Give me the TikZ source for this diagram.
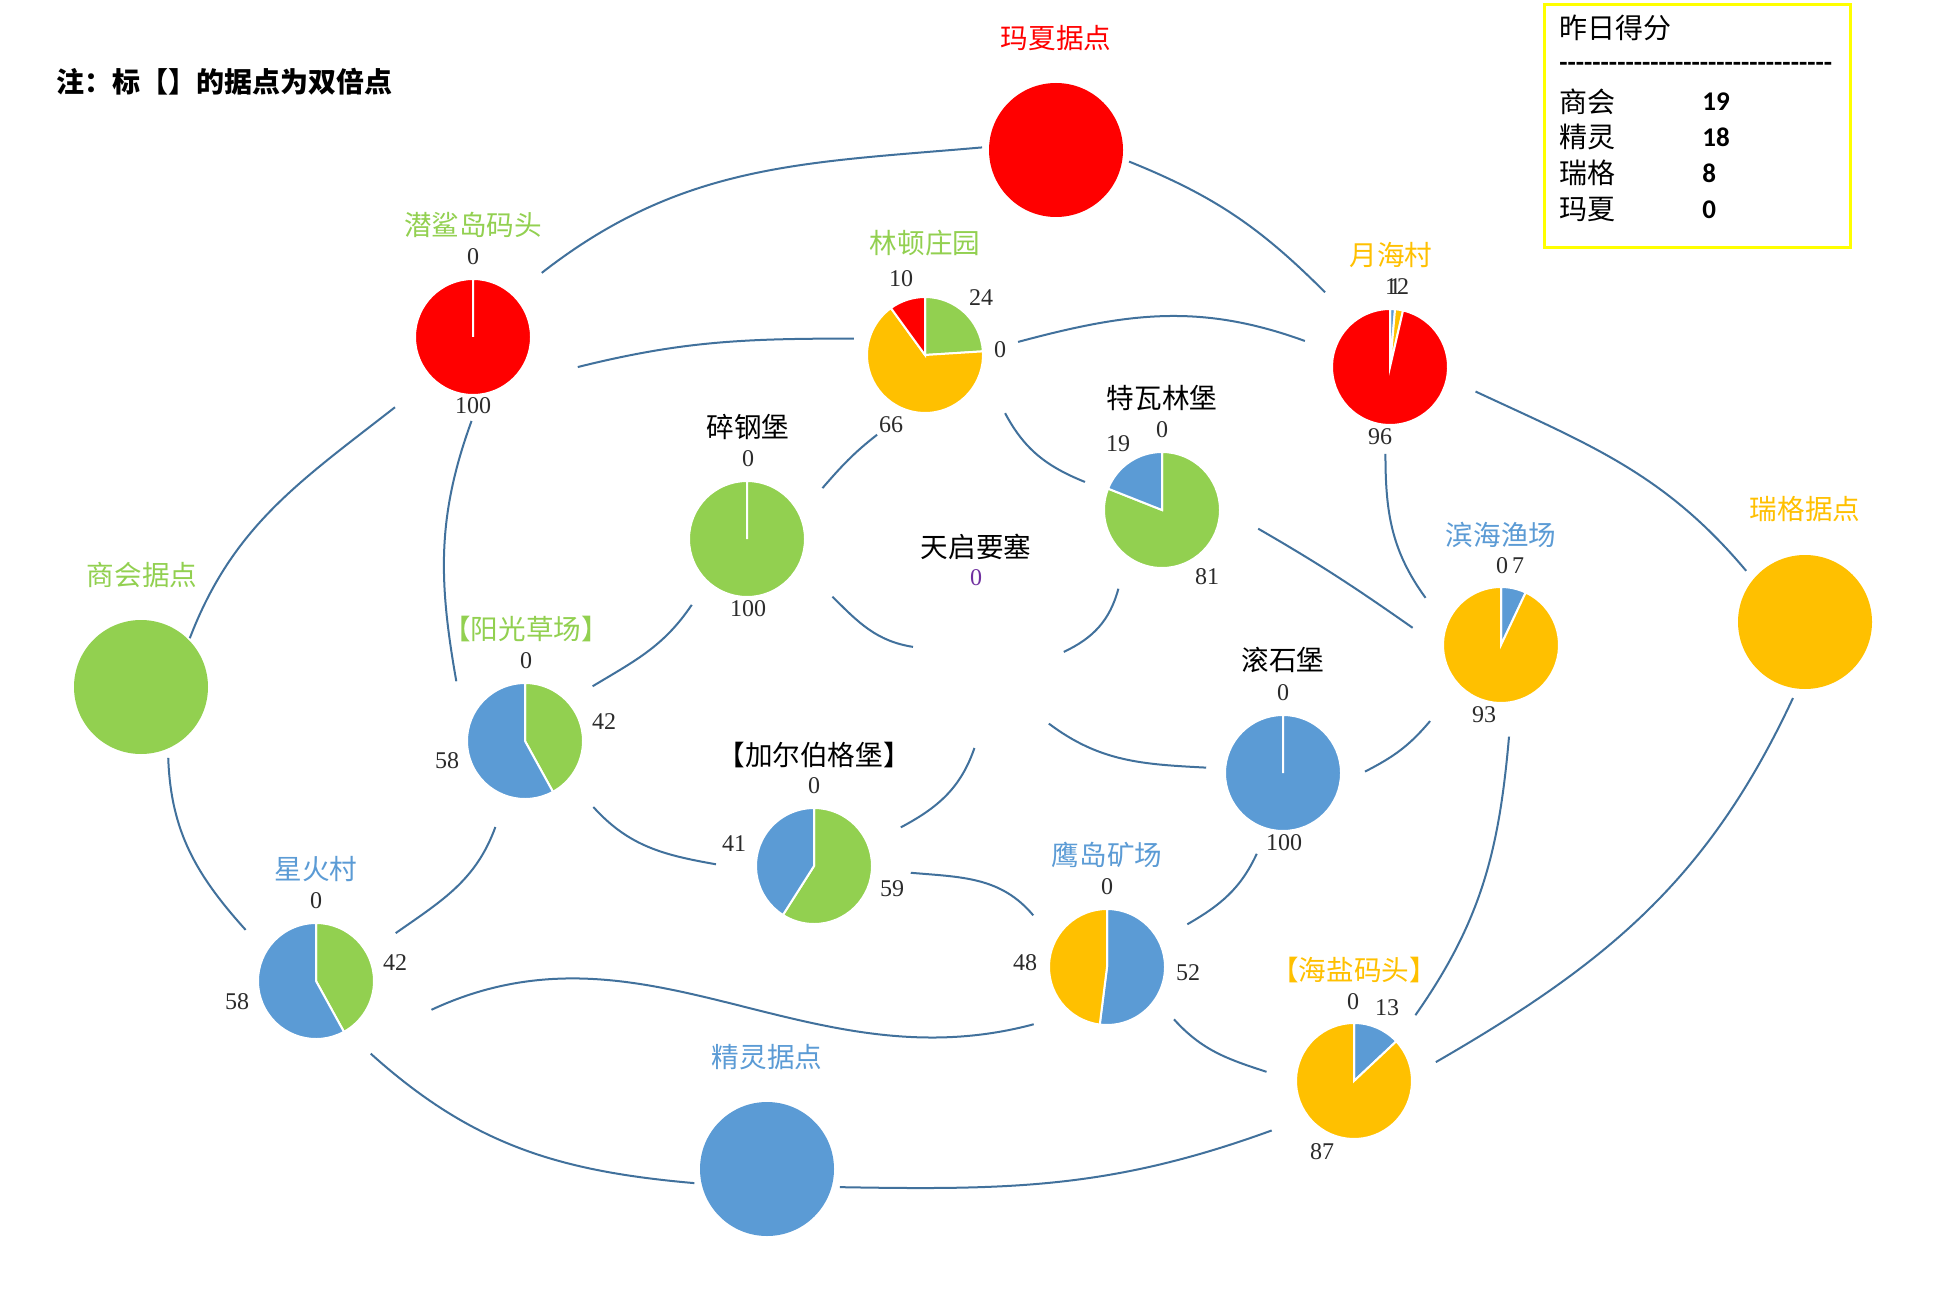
\documentclass[tikz,border=0pt]{standalone}
\usepackage{fontspec}
\setmainfont{Liberation Serif}
\newfontfamily\cjk{Noto Sans CJK SC}
\newfontfamily\numf{Liberation Serif}
\newfontfamily\lgf{Carlito}
\usetikzlibrary{calc}
\definecolor{cred}{HTML}{FF0000}
\definecolor{cgreen}{HTML}{92D050}
\definecolor{cyellow}{HTML}{FFC000}
\definecolor{cblue}{HTML}{5B9BD5}
\definecolor{linec}{HTML}{41719C}
\definecolor{numc}{HTML}{2B2B2B}
\definecolor{cpurple}{HTML}{7030A0}
\definecolor{lgyellow}{HTML}{FFFF00}
\newcommand\lblfont{\cjk\fontsize{13.8}{16}\selectfont}
\newcommand\nmbfont{\numf\fontsize{12}{14}\selectfont}
\newcommand\pslice[4]{%
  \fill[#4, draw=white, line width=1pt] (#1.center) -- ++({90-(#2)}:58)
    arc[start angle={90-(#2)}, end angle={90-(#3)}, radius=58] -- cycle;}
\begin{document}
\begin{tikzpicture}[x=0.5pt,y=0.5pt,
  hub/.style={circle, minimum size=58pt, inner sep=0pt, outer sep=0pt},
  bighub/.style={circle, minimum size=67pt, inner sep=0pt, outer sep=0pt, fill=#1},
  lab/.style={font=\lblfont, inner sep=0pt, text=#1},
  lab/.default=black,
  num/.style={font=\nmbfont, inner sep=0pt, text=numc},
  conn/.style={draw=linec, line width=1pt},
  lgtext/.style={font=\cjk\fontsize{14}{16}\selectfont, inner sep=0pt, anchor=west},
  lgnum/.style={font=\lgf\bfseries\fontsize{13.5}{16}\selectfont, inner sep=0pt, anchor=west}]
\useasboundingbox (0,0) rectangle (1937,-1294);
\fill[white] (0,0) rectangle (1937,-1294);

% note
\node[font=\cjk\bfseries\fontsize{14}{16}\selectfont, inner sep=0pt, anchor=west] (note) at (56,-82) {注：标【】的据点为双倍点};

% legend
\node[draw=lgyellow, line width=1.5pt, inner sep=0pt, minimum width=153pt, minimum height=121.5pt] (legend) at (1697,-126.5) {};
\node[lgtext] (lgtitle) at (1559,-28) {昨日得分};
\node[lgnum] (lgdash) at (1559,-67) {---------------------------------};
\node[lgtext] (lg1) at (1559,-102) {商会};
\node[lgtext] (lg2) at (1559,-137) {精灵};
\node[lgtext] (lg3) at (1559,-173) {瑞格};
\node[lgtext] (lg4) at (1559,-210) {玛夏};
\node[lgnum] (lg1n) at (1702,-102) {19};
\node[lgnum] (lg2n) at (1702,-137) {18};
\node[lgnum] (lg3n) at (1702,-173) {8};
\node[lgnum] (lg4n) at (1702,-210) {0};

% big strongholds
\node[bighub=cred] (mx) at (1056,-150) {};
\node[bighub=cgreen] (sh) at (141,-687) {};
\node[bighub=cblue] (jl) at (767,-1169) {};
\node[bighub=cyellow] (rg) at (1805,-622) {};
\node[lab=cred] (mxl) at (1056,-38) {玛夏据点};
\node[lab=cgreen] (shl) at (142,-575) {商会据点};
\node[lab=cblue] (jll) at (767,-1057) {精灵据点};
\node[lab=cyellow] (rgl) at (1805,-509) {瑞格据点};

% pies
\node[hub] (qs) at (473,-337) {};
\pslice{qs}{0}{360}{cred}
\node[lab=cgreen] (qsl) at (473,-225) {潜鲨岛码头};
\node[num] (qs0) at (473,-257) {0};
\node[num] (qs1) at (473,-406) {100};

\node[hub] (ld) at (925,-355) {};
\pslice{ld}{0}{86.4}{cgreen}\pslice{ld}{86.4}{324}{cyellow}\pslice{ld}{324}{360}{cred}
\node[lab=cgreen] (ldl) at (925,-243) {林顿庄园};
\node[num] (ld1) at (901,-279) {10};
\node[num] (ld2) at (981,-298) {24};
\node[num] (ld3) at (1000,-350) {0};
\node[num] (ld4) at (891,-425) {66};

\node[hub] (yh) at (1390,-367) {};
\pslice{yh}{0}{5}{cblue}\pslice{yh}{5}{13}{cyellow}\pslice{yh}{13}{360}{cred}
\node[lab=cyellow] (yhl) at (1391,-255) {月海村};
\node[num] (yh1) at (1391,-287) {1};
\node[num] (yh2) at (1395,-287) {1};
\node[num] (yh3) at (1403,-287) {2};
\node[num] (yh4) at (1380,-437) {96};

\node[hub] (sg) at (747,-539) {};
\pslice{sg}{0}{360}{cgreen}
\node[lab] (sgl) at (748,-427) {碎钢堡};
\node[num] (sg0) at (748,-459) {0};
\node[num] (sg1) at (748,-609) {100};

\node[hub] (tw) at (1162,-510) {};
\pslice{tw}{0}{291.6}{cgreen}\pslice{tw}{291.6}{360}{cblue}
\node[lab] (twl) at (1162,-398) {特瓦林堡};
\node[num] (tw0) at (1162,-430) {0};
\node[num] (tw1) at (1118,-444) {19};
\node[num] (tw2) at (1207,-577) {81};

\node[hub] (tq) at (976,-658) {};
\node[lab] (tql) at (976,-547) {天启要塞};
\node[num, text=cpurple] (tq0) at (976,-578) {0};

\node[hub] (yg) at (525,-741) {};
\pslice{yg}{0}{151.2}{cgreen}\pslice{yg}{151.2}{360}{cblue}
\node[lab=cgreen] (ygl) at (526,-629) {【阳光草场】};
\node[num] (yg0) at (526,-661) {0};
\node[num] (yg1) at (604,-722) {42};
\node[num] (yg2) at (447,-761) {58};

\node[hub] (xh) at (316,-981) {};
\pslice{xh}{0}{151.2}{cgreen}\pslice{xh}{151.2}{360}{cblue}
\node[lab=cblue] (xhl) at (316,-869) {星火村};
\node[num] (xh0) at (316,-901) {0};
\node[num] (xh1) at (395,-963) {42};
\node[num] (xh2) at (237,-1002) {58};

\node[hub] (je) at (814,-866) {};
\pslice{je}{0}{212.4}{cgreen}\pslice{je}{212.4}{360}{cblue}
\node[lab] (jel) at (814,-755) {【加尔伯格堡】};
\node[num] (je0) at (814,-786) {0};
\node[num] (je1) at (734,-844) {41};
\node[num] (je2) at (892,-889) {59};

\node[hub] (yd) at (1107,-967) {};
\pslice{yd}{0}{187.2}{cblue}\pslice{yd}{187.2}{360}{cyellow}
\node[lab=cblue] (ydl) at (1107,-855) {鹰岛矿场};
\node[num] (yd0) at (1107,-887) {0};
\node[num] (yd1) at (1025,-963) {48};
\node[num] (yd2) at (1188,-973) {52};

\node[hub] (gs) at (1283,-773) {};
\pslice{gs}{0}{360}{cblue}
\node[lab] (gsl) at (1283,-660) {滚石堡};
\node[num] (gs0) at (1283,-693) {0};
\node[num] (gs1) at (1284,-843) {100};

\node[hub] (bh) at (1501,-645) {};
\pslice{bh}{0}{25.2}{cblue}\pslice{bh}{25.2}{360}{cyellow}
\node[lab=cblue] (bhl) at (1501,-535) {滨海渔场};
\node[num] (bh0) at (1502,-566) {0};
\node[num] (bh1) at (1518,-566) {7};
\node[num] (bh2) at (1484,-715) {93};

\node[hub] (hy) at (1354,-1081) {};
\pslice{hy}{0}{46.8}{cblue}\pslice{hy}{46.8}{360}{cyellow}
\node[lab=cyellow] (hyl) at (1354,-970) {【海盐码头】};
\node[num] (hy0) at (1353,-1002) {0};
\node[num] (hy1) at (1387,-1008) {13};
\node[num] (hy2) at (1322,-1152) {87};

% connectors
\draw[conn] ($(qs)+(43:94)$) to[out=38,in=185] ($(mx)+(178:74)$);
\draw[conn] ($(mx)+(-9:74)$) to[out=-22,in=135] ($(yh)+(131:99)$);
\draw[conn] ($(qs)+(-16:109)$) to[out=14,in=180] ($(ld)+(167:73)$);
\draw[conn] ($(ld)+(8:94)$) to[out=15,in=160] ($(yh)+(163:89)$);
\draw[conn] ($(yh)+(-16:89)$) to[out=-25,in=130] ($(rg)+(139:78)$);
\draw[conn] ($(yh)+(-93:87)$) to[out=-90,in=126] ($(bh)+(148:89)$);
\draw[conn] ($(ld)+(-36:99)$) to[out=-62,in=158] ($(tw)+(160:82)$);
\draw[conn] ($(ld)+(-121:93)$) to[out=218,in=49] ($(sg)+(34:91)$);
\draw[conn] ($(tw)+(-11:98)$) to[out=-30,in=145] ($(bh)+(169:90)$);
\draw[conn] ($(tw)+(-119:90)$) to[out=-105,in=25] ($(tq)+(4:88)$);
\draw[conn] ($(sg)+(-34:103)$) to[out=-45,in=171] ($(tq)+(170:64)$);
\draw[conn] ($(sg)+(-130:86)$) to[out=-124,in=31] ($(yg)+(39:87)$);
\draw[conn] ($(qs)+(-91:84)$) to[out=-110,in=100] ($(yg)+(139:91)$);
\draw[conn] ($(qs)+(-138:105)$) to[out=218,in=69] ($(sh)+(45:69)$);
\draw[conn] ($(sh)+(-69:76)$) to[out=-88,in=132] ($(xh)+(144:87)$);
\draw[conn] ($(yg)+(-109:91)$) to[out=-110,in=35] ($(xh)+(31:93)$);
\draw[conn] ($(yg)+(-44:95)$) to[out=-48,in=170] ($(je)+(179:98)$);
\draw[conn] ($(je)+(24:95)$) to[out=28,in=-109] ($(tq)+(-91:90)$);
\draw[conn] ($(je)+(-4:97)$) to[out=-5,in=130] ($(yd)+(145:90)$);
\draw[conn] ($(xh)+(-14:119)$) to[out=25,in=195] ($(yd)+(-142:93)$);
\draw[conn] ($(xh)+(-53:91)$) to[out=-42,in=175] ($(jl)+(-169:74)$);
\draw[conn] ($(jl)+(-14:75)$) to[out=-1,in=200] ($(hy)+(-149:96)$);
\draw[conn] ($(yd)+(-38:85)$) to[out=-48,in=162] ($(hy)+(174:88)$);
\draw[conn] ($(yd)+(28:91)$) to[out=30,in=-115] ($(gs)+(-108:85)$);
\draw[conn] ($(gs)+(176:77)$) to[out=177,in=-37] ($(tq)+(-42:98)$);
\draw[conn] ($(gs)+(1:82)$) to[out=27,in=-130] ($(bh)+(-133:104)$);
\draw[conn] ($(bh)+(-85:92)$) to[out=-95,in=55] ($(hy)+(47:90)$);
\draw[conn] ($(rg)+(-99:77)$) to[out=-115,in=30] ($(hy)+(13:84)$);
\end{tikzpicture}
\end{document}
